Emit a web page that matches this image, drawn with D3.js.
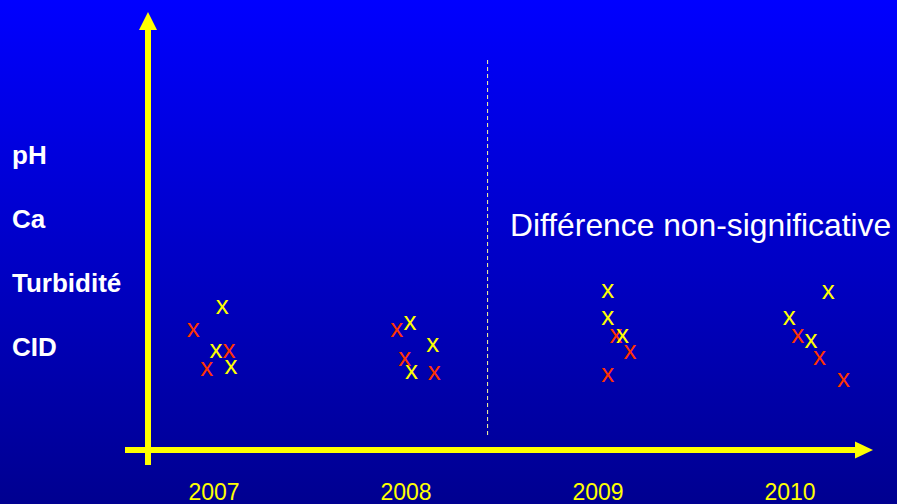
<!DOCTYPE html>
<html>
<head>
<meta charset="utf-8">
<script src="https://cdn.jsdelivr.net/npm/d3@7"></script>
<style>
  html, body { margin: 0; padding: 0; background: #000090; }
  svg { display: block; }
</style>
</head>
<body>
<svg id="chart" width="897" height="504"></svg>
<script>
// Years on the time axis
const years = [2007, 2008, 2009, 2010];

// Parameters listed along the vertical axis
const parameters = ["pH", "Ca", "Turbidité", "CID"];

// Yellow series: sampling time (decimal year) and value
const yellowTime  = [2007.043, 2007.010, 2007.089, 2008.021, 2008.139, 2008.028,
                     2009.051, 2009.051, 2009.127, 2010.199, 2009.996, 2010.109];
const yellowValue = [34.1, 23.6, 19.8, 30.3, 24.9, 18.6,
                     37.7, 31.3, 27.0, 37.6, 31.3, 26.0];

// Red series: sampling time (decimal year) and value
const redTime  = [2006.892, 2007.078, 2006.962, 2007.952, 2007.993, 2008.147,
                  2009.094, 2009.167, 2009.051, 2010.040, 2010.153, 2010.278];
const redValue = [28.6, 23.6, 19.2, 28.6, 21.7, 18.3,
                  27.0, 23.3, 17.7, 27.1, 21.8, 16.7];

// Boundary between the two periods
const breakTime = 2008.425;
const annotation = "Différence non-significative";

const W = 897, H = 504;
const svg = d3.select("#chart");
const font = "'Liberation Sans', Arial, Helvetica, sans-serif";

// Background gradient
const defs = svg.append("defs");
const grad = defs.append("linearGradient")
  .attr("id", "bg").attr("x1", 0).attr("y1", 0).attr("x2", 0).attr("y2", 1);
grad.append("stop").attr("offset", "0%").attr("stop-color", "#0000ff");
grad.append("stop").attr("offset", "100%").attr("stop-color", "#000090");
svg.append("rect").attr("width", W).attr("height", H).attr("fill", "url(#bg)");

// Scales
const x = d3.scaleLinear().domain([2007, 2010]).range([214, 790]);
const y = d3.scaleLinear().domain([0, 100]).range([450, 30]);
const yParam = d3.scalePoint().domain(parameters).range([164, 356]);

const axisColor = "#ffff00";
const axisX = 148, axisY = 450;

// Vertical axis with arrowhead
svg.append("line")
  .attr("x1", axisX).attr("x2", axisX)
  .attr("y1", 465).attr("y2", 26)
  .attr("stroke", axisColor).attr("stroke-width", 6);
svg.append("path")
  .attr("d", `M${axisX},12 L${axisX - 9},30 L${axisX + 9},30 Z`)
  .attr("fill", axisColor);

// Horizontal axis with arrowhead
svg.append("line")
  .attr("x1", 125).attr("x2", 858)
  .attr("y1", axisY).attr("y2", axisY)
  .attr("stroke", axisColor).attr("stroke-width", 6);
svg.append("path")
  .attr("d", `M873,${axisY} L855,${axisY - 8.5} L855,${axisY + 8.5} Z`)
  .attr("fill", axisColor);

// Dashed separator between periods
svg.append("line")
  .attr("x1", x(breakTime)).attr("x2", x(breakTime))
  .attr("y1", 60).attr("y2", 435)
  .attr("stroke", "#ffff99").attr("stroke-width", 1)
  .attr("stroke-dasharray", "4,3");

// Year labels
svg.append("g").selectAll("text")
  .data(years).join("text")
  .attr("x", d => x(d))
  .attr("y", 500)
  .attr("text-anchor", "middle")
  .attr("font-family", font)
  .attr("font-size", 23)
  .attr("fill", axisColor)
  .text(d => d);

// Parameter labels
svg.append("g").selectAll("text")
  .data(parameters).join("text")
  .attr("x", 12)
  .attr("y", d => yParam(d))
  .attr("font-family", font)
  .attr("font-size", 26)
  .attr("font-weight", "bold")
  .attr("fill", "#ffffff")
  .text(d => d);

// Annotation
svg.append("text")
  .attr("x", 510).attr("y", 236)
  .attr("font-family", font)
  .attr("font-size", 31.8)
  .attr("fill", "#ffffff")
  .text(annotation);

// Point markers drawn as "x" glyphs
function drawSeries(times, values, color) {
  const pts = times.map((t, i) => ({ t, v: values[i] }));
  svg.append("g").selectAll("text")
    .data(pts).join("text")
    .attr("x", d => x(d.t))
    .attr("y", d => y(d.v) + 6.8)
    .attr("text-anchor", "middle")
    .attr("font-family", font)
    .attr("font-size", 26)
    .attr("fill", color)
    .text("x");
}
drawSeries(redTime, redValue, "#ff3300");
drawSeries(yellowTime, yellowValue, "#ffff00");
</script>
</body>
</html>
